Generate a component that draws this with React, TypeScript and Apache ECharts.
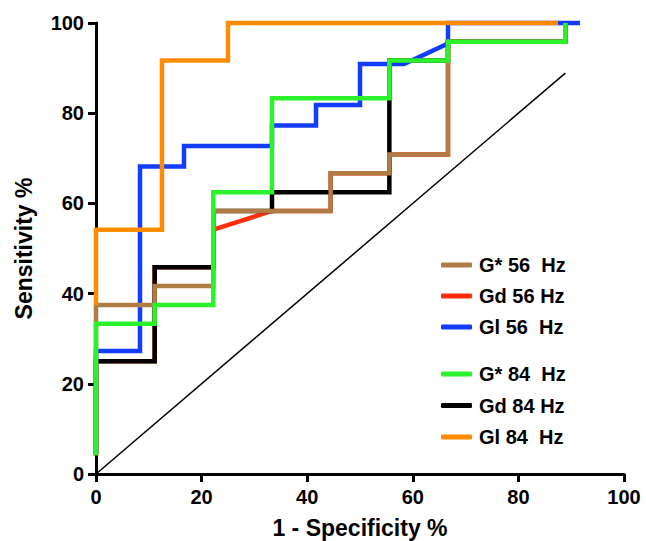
import React, { useEffect, useRef } from "react";
import * as echarts from "echarts";

// Series names (legend order)
const seriesNames = ["G* 56  Hz", "Gd 56 Hz", "Gl 56  Hz", "G* 84  Hz", "Gd 84 Hz", "Gl 84  Hz"];

// 1 - Specificity % (x) and Sensitivity % (y) for each ROC curve
const gStar56X = [0, 0, 11.11, 11.11, 22.22, 22.22, 44.44, 44.44, 55.56, 55.56, 66.67, 66.67, 88.89, 88.89];
const gStar56Y = [4.17, 37.5, 37.5, 41.67, 41.67, 58.33, 58.33, 66.67, 66.67, 70.83, 70.83, 95.83, 95.83, 100];

const gd56X = [0, 0, 11.11, 11.11, 22.22, 22.22, 33.33, 44.44, 44.44, 55.56, 55.56, 66.67, 66.67, 88.89, 88.89];
const gd56Y = [4.17, 25, 25, 45.83, 45.83, 54.17, 58.33, 58.33, 66.67, 66.67, 70.83, 70.83, 95.83, 95.83, 100];

const gl56X = [0, 0, 8.33, 8.33, 16.67, 16.67, 33.33, 33.33, 41.67, 41.67, 50, 50, 58.33, 66.67, 66.67, 91.67];
const gl56Y = [4.55, 27.27, 27.27, 68.18, 68.18, 72.73, 72.73, 77.27, 77.27, 81.82, 81.82, 90.91, 90.91, 95.45, 100, 100];

const gStar84X = [0, 0, 11.11, 11.11, 22.22, 22.22, 33.33, 33.33, 55.56, 55.56, 66.67, 66.67, 88.89, 88.89];
const gStar84Y = [4.17, 33.33, 33.33, 37.5, 37.5, 62.5, 62.5, 83.33, 83.33, 91.67, 91.67, 95.83, 95.83, 100];

const gd84X = [0, 0, 11.11, 11.11, 22.22, 22.22, 33.33, 33.33, 55.56, 55.56, 66.67, 66.67, 88.89, 88.89];
const gd84Y = [4.17, 25, 25, 45.83, 45.83, 58.33, 58.33, 62.5, 62.5, 91.67, 91.67, 95.83, 95.83, 100];

const gl84X = [0, 0, 12.5, 12.5, 25, 25, 87.5];
const gl84Y = [37.5, 54.17, 54.17, 91.67, 91.67, 100, 100];

// Reference (chance) line
const refX = [0, 88.89];
const refY = [0, 88.89];

const colors = {
  "G* 56  Hz": "#b07c46",
  "Gd 56 Hz": "#ff2d0a",
  "Gl 56  Hz": "#143cff",
  "G* 84  Hz": "#2cf22c",
  "Gd 84 Hz": "#000000",
  "Gl 84  Hz": "#ff8c00",
};

const zip = (xs: number[], ys: number[]) => xs.map((x, i) => [x, ys[i]]);

export default function App() {
  const ref = useRef<HTMLDivElement>(null);

  useEffect(() => {
    if (!ref.current) return;
    const chart = echarts.init(ref.current, undefined, { renderer: "svg" });
    const font = "Liberation Sans, Arial, sans-serif";

    // drawing order bottom -> top
    const layers: [string, number[], number[]][] = [
      ["Gd 56 Hz", gd56X, gd56Y],
      ["Gd 84 Hz", gd84X, gd84Y],
      ["Gl 56  Hz", gl56X, gl56Y],
      ["G* 56  Hz", gStar56X, gStar56Y],
      ["G* 84  Hz", gStar84X, gStar84Y],
      ["Gl 84  Hz", gl84X, gl84Y],
    ];

    const series: any[] = [
      {
        type: "line",
        name: "ref",
        data: zip(refX, refY),
        symbol: "none",
        clip: false,
        silent: true,
        z: 1,
        lineStyle: { color: "#000", width: 1.5 },
      },
      ...layers.map(([name, xs, ys], i) => ({
        type: "line",
        name,
        data: zip(xs, ys),
        symbol: "none",
        clip: false,
        z: 2 + i,
        itemStyle: { color: (colors as any)[name] },
        lineStyle: { color: (colors as any)[name], width: 4.5, join: "miter", cap: "butt" },
      })),
    ];

    const legendCommon = {
      orient: "vertical",
      left: 441,
      icon: "roundRect",
      itemWidth: 31,
      itemHeight: 5,
      itemGap: 11,
      textStyle: {
        fontFamily: font,
        fontWeight: "bold",
        fontSize: 20,
        lineHeight: 20,
        color: "#000",
        padding: [0, 0, 0, 2],
      },
      padding: 0,
      selectedMode: false,
    };

    chart.setOption({
      animation: false,
      backgroundColor: "#ffffff",
      grid: {
        left: 96,
        right: 22,
        top: 23,
        bottom: 67,
        containLabel: false,
        outerBoundsMode: "none",
      },
      legend: [
        { ...legendCommon, top: 255, data: seriesNames.slice(0, 3) },
        { ...legendCommon, top: 364, itemGap: 11.5, data: seriesNames.slice(3) },
      ],
      xAxis: {
        type: "value",
        min: 0,
        max: 100,
        interval: 20,
        name: "1 - Specificity %",
        nameLocation: "middle",
        nameGap: 42,
        nameTextStyle: { fontFamily: font, fontWeight: "bold", fontSize: 23, color: "#000" },
        axisLine: { show: true, onZero: false, lineStyle: { color: "#000", width: 3 } },
        axisTick: { show: true, inside: false, length: 8, lineStyle: { color: "#000", width: 3 } },
        axisLabel: { fontFamily: font, fontWeight: "bold", fontSize: 20, color: "#000", margin: 13 },
        splitLine: { show: false },
      },
      yAxis: {
        type: "value",
        min: 0,
        max: 100,
        interval: 20,
        name: "Sensitivity %",
        nameLocation: "middle",
        nameGap: 61,
        nameRotate: 90,
        nameTextStyle: { fontFamily: font, fontWeight: "bold", fontSize: 23, color: "#000" },
        axisLine: { show: true, onZero: false, lineStyle: { color: "#000", width: 3 } },
        axisTick: { show: true, inside: false, length: 8, lineStyle: { color: "#000", width: 3 } },
        axisLabel: { fontFamily: font, fontWeight: "bold", fontSize: 20, color: "#000", margin: 12 },
        splitLine: { show: false },
      },
      series,
    });

    return () => chart.dispose();
  }, []);

  return (
    <div
      ref={ref}
      style={{ position: "fixed", left: 0, top: 0, width: 646, height: 541, background: "#fff" }}
    />
  );
}
